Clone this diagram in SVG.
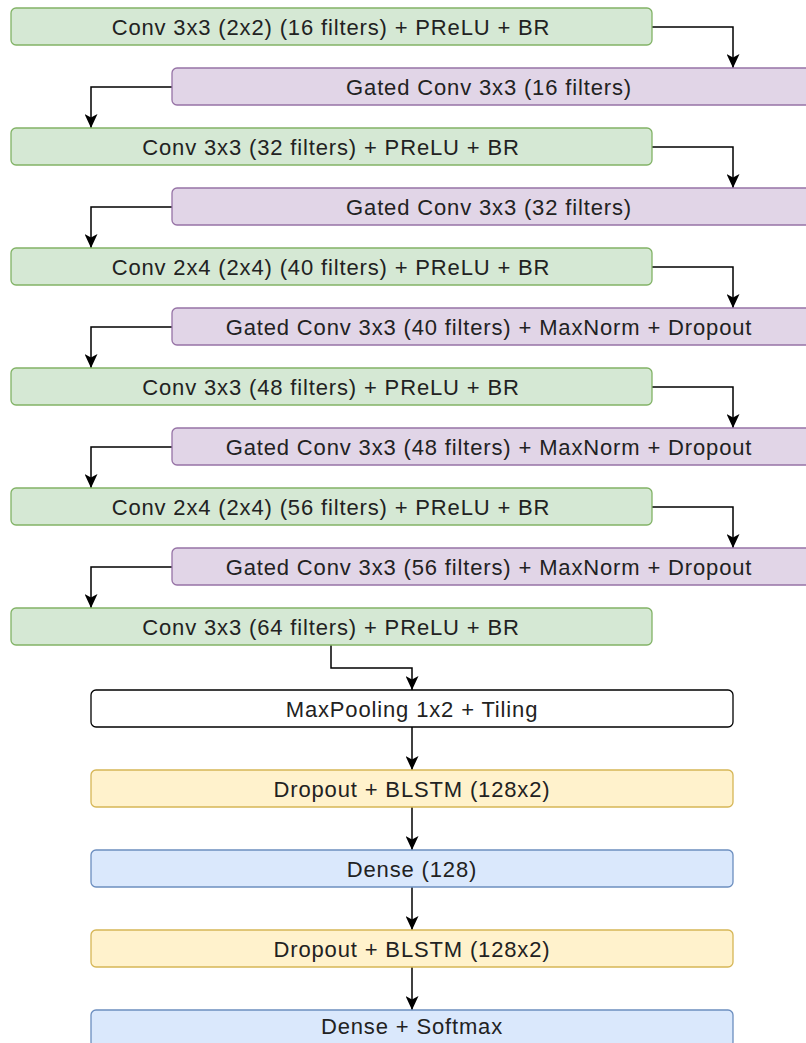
<svg xmlns="http://www.w3.org/2000/svg" width="806" height="1043" viewBox="0 0 806 1043">
<defs>
<marker id="ar" markerWidth="14" markerHeight="13" refX="14" refY="6.5" orient="auto" markerUnits="userSpaceOnUse" viewBox="0 0 14 13">
<path d="M0,0 L14,6.5 L0,13 L3.5,6.5 Z" fill="#000"/>
</marker>
<style>
.g{fill:#d5e8d4;stroke:#82b366;stroke-width:1.3}
.p{fill:#e1d5e7;stroke:#9673a6;stroke-width:1.3}
.y{fill:#fff2cc;stroke:#d6b656;stroke-width:1.3}
.b{fill:#dae8fc;stroke:#6c8ebf;stroke-width:1.3}
.w{fill:#ffffff;stroke:#000000;stroke-width:1.3}
text{font-family:"Liberation Sans",Arial,sans-serif;font-size:22px;letter-spacing:0.85px;fill:#222;text-anchor:middle;dominant-baseline:central}
.c{fill:none;stroke:#000;stroke-width:1.5;marker-end:url(#ar)}
</style>
</defs>
<rect width="806" height="1043" fill="#fff"/>
<g id="connectors">
<path class="c" d="M652,27 H733 V68"/>
<path class="c" d="M172,87 H91 V128"/>
<path class="c" d="M652,147 H733 V188"/>
<path class="c" d="M172,207 H91 V248"/>
<path class="c" d="M652,267 H733 V308"/>
<path class="c" d="M172,327 H91 V368"/>
<path class="c" d="M652,387 H733 V428"/>
<path class="c" d="M172,447 H91 V488"/>
<path class="c" d="M652,507 H733 V548"/>
<path class="c" d="M172,567 H91 V608"/>
<path class="c" d="M331,645 V668 H412 V690"/>
<path class="c" d="M412,727 V770"/>
<path class="c" d="M412,807 V850"/>
<path class="c" d="M412,887 V930"/>
<path class="c" d="M412,967 V1010"/>
</g>
<g id="n1"><rect class="g" x="11" y="8" width="641" height="37" rx="5"/><text x="331" y="27">Conv 3x3 (2x2) (16 filters) + PReLU + BR</text></g>
<g id="n2"><rect class="p" x="172" y="68" width="640" height="37" rx="5"/><text x="489" y="87">Gated Conv 3x3 (16 filters)</text></g>
<g id="n3"><rect class="g" x="11" y="128" width="641" height="37" rx="5"/><text x="331" y="147">Conv 3x3 (32 filters) + PReLU + BR</text></g>
<g id="n4"><rect class="p" x="172" y="188" width="640" height="37" rx="5"/><text x="489" y="207">Gated Conv 3x3 (32 filters)</text></g>
<g id="n5"><rect class="g" x="11" y="248" width="641" height="37" rx="5"/><text x="331" y="267">Conv 2x4 (2x4) (40 filters) + PReLU + BR</text></g>
<g id="n6"><rect class="p" x="172" y="308" width="640" height="37" rx="5"/><text x="489" y="327">Gated Conv 3x3 (40 filters) + MaxNorm + Dropout</text></g>
<g id="n7"><rect class="g" x="11" y="368" width="641" height="37" rx="5"/><text x="331" y="387">Conv 3x3 (48 filters) + PReLU + BR</text></g>
<g id="n8"><rect class="p" x="172" y="428" width="640" height="37" rx="5"/><text x="489" y="447">Gated Conv 3x3 (48 filters) + MaxNorm + Dropout</text></g>
<g id="n9"><rect class="g" x="11" y="488" width="641" height="37" rx="5"/><text x="331" y="507">Conv 2x4 (2x4) (56 filters) + PReLU + BR</text></g>
<g id="n10"><rect class="p" x="172" y="548" width="640" height="37" rx="5"/><text x="489" y="567">Gated Conv 3x3 (56 filters) + MaxNorm + Dropout</text></g>
<g id="n11"><rect class="g" x="11" y="608" width="641" height="37" rx="5"/><text x="331" y="627">Conv 3x3 (64 filters) + PReLU + BR</text></g>
<g id="n12"><rect class="w" x="91" y="690" width="642" height="37" rx="5"/><text x="412" y="709">MaxPooling 1x2 + Tiling</text></g>
<g id="n13"><rect class="y" x="91" y="770" width="642" height="37" rx="5"/><text x="412" y="789">Dropout + BLSTM (128x2)</text></g>
<g id="n14"><rect class="b" x="91" y="850" width="642" height="37" rx="5"/><text x="412" y="869">Dense (128)</text></g>
<g id="n15"><rect class="y" x="91" y="930" width="642" height="37" rx="5"/><text x="412" y="949">Dropout + BLSTM (128x2)</text></g>
<g id="n16"><rect class="b" x="91" y="1010" width="642" height="37" rx="5"/><text x="412" y="1026">Dense + Softmax</text></g>
</svg>
